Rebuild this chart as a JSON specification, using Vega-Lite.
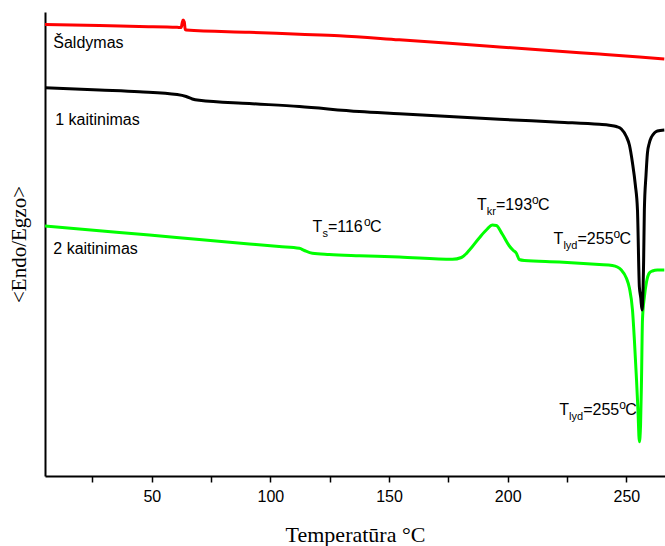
{
  "$schema": "https://vega.github.io/schema/vega-lite/v6.json",
  "width": 620,
  "height": 464,
  "autosize": "none",
  "padding": {"left": 45, "top": 12, "right": 0, "bottom": 70},
  "background": "white",
  "config": {"view": {"stroke": null}, "text": {"font": "Liberation Sans", "fill": "black"}},
  "datasets": {
    "curves": [
      {"s": "Šaldymas", "T": 5.0, "v": 451.5}, {"s": "Šaldymas", "T": 27.9, "v": 450.5}, {"s": "Šaldymas", "T": 44.7, "v": 449.5},
      {"s": "Šaldymas", "T": 60.7, "v": 448.7}, {"s": "Šaldymas", "T": 62.4, "v": 448.5}, {"s": "Šaldymas", "T": 62.8, "v": 453},
      {"s": "Šaldymas", "T": 63.2, "v": 456}, {"s": "Šaldymas", "T": 63.7, "v": 454}, {"s": "Šaldymas", "T": 64.1, "v": 446.5},
      {"s": "Šaldymas", "T": 64.5, "v": 446}, {"s": "Šaldymas", "T": 91.1, "v": 443.7}, {"s": "Šaldymas", "T": 112.2, "v": 441.8},
      {"s": "Šaldymas", "T": 129.0, "v": 440.3}, {"s": "Šaldymas", "T": 154.3, "v": 436.2}, {"s": "Šaldymas", "T": 175.4, "v": 432.7},
      {"s": "Šaldymas", "T": 196.5, "v": 429.1}, {"s": "Šaldymas", "T": 221.7, "v": 424.7}, {"s": "Šaldymas", "T": 238.6, "v": 421.9},
      {"s": "Šaldymas", "T": 255.5, "v": 419}, {"s": "Šaldymas", "T": 266.0, "v": 417},

      {"s": "1 kaitinimas", "T": 5.0, "v": 388.3}, {"s": "1 kaitinimas", "T": 27.9, "v": 386}, {"s": "1 kaitinimas", "T": 44.7, "v": 384.3},
      {"s": "1 kaitinimas", "T": 60.7, "v": 381.5}, {"s": "1 kaitinimas", "T": 64.5, "v": 379.5}, {"s": "1 kaitinimas", "T": 67.1, "v": 377},
      {"s": "1 kaitinimas", "T": 70.0, "v": 375.7}, {"s": "1 kaitinimas", "T": 91.1, "v": 372.5}, {"s": "1 kaitinimas", "T": 112.2, "v": 369.5},
      {"s": "1 kaitinimas", "T": 137.5, "v": 364.5}, {"s": "1 kaitinimas", "T": 154.3, "v": 362.3}, {"s": "1 kaitinimas", "T": 175.4, "v": 359.5},
      {"s": "1 kaitinimas", "T": 196.5, "v": 356.8}, {"s": "1 kaitinimas", "T": 221.7, "v": 353.8}, {"s": "1 kaitinimas", "T": 238.6, "v": 351.7},
      {"s": "1 kaitinimas", "T": 242.8, "v": 350.8}, {"s": "1 kaitinimas", "T": 245.8, "v": 349.5}, {"s": "1 kaitinimas", "T": 247.9, "v": 347},
      {"s": "1 kaitinimas", "T": 250.0, "v": 339.5}, {"s": "1 kaitinimas", "T": 251.3, "v": 331}, {"s": "1 kaitinimas", "T": 252.6, "v": 313},
      {"s": "1 kaitinimas", "T": 253.8, "v": 291}, {"s": "1 kaitinimas", "T": 254.7, "v": 266}, {"s": "1 kaitinimas", "T": 255.5, "v": 189},
      {"s": "1 kaitinimas", "T": 256.1, "v": 178}, {"s": "1 kaitinimas", "T": 256.6, "v": 166}, {"s": "1 kaitinimas", "T": 257.3, "v": 216},
      {"s": "1 kaitinimas", "T": 257.6, "v": 266}, {"s": "1 kaitinimas", "T": 258.3, "v": 301}, {"s": "1 kaitinimas", "T": 258.9, "v": 323},
      {"s": "1 kaitinimas", "T": 259.7, "v": 333}, {"s": "1 kaitinimas", "T": 260.6, "v": 339}, {"s": "1 kaitinimas", "T": 261.8, "v": 343},
      {"s": "1 kaitinimas", "T": 263.1, "v": 345}, {"s": "1 kaitinimas", "T": 266.0, "v": 346},

      {"s": "2 kaitinimas", "T": 5.0, "v": 250}, {"s": "2 kaitinimas", "T": 27.9, "v": 245.3}, {"s": "2 kaitinimas", "T": 49.0, "v": 241},
      {"s": "2 kaitinimas", "T": 70.0, "v": 236.5}, {"s": "2 kaitinimas", "T": 91.1, "v": 232.1}, {"s": "2 kaitinimas", "T": 103.7, "v": 229.5},
      {"s": "2 kaitinimas", "T": 112.2, "v": 227.7}, {"s": "2 kaitinimas", "T": 114.3, "v": 225.5}, {"s": "2 kaitinimas", "T": 117.7, "v": 222.7},
      {"s": "2 kaitinimas", "T": 124.8, "v": 221.5}, {"s": "2 kaitinimas", "T": 137.5, "v": 220.3}, {"s": "2 kaitinimas", "T": 154.3, "v": 219},
      {"s": "2 kaitinimas", "T": 176.7, "v": 216.7}, {"s": "2 kaitinimas", "T": 180.5, "v": 218.5}, {"s": "2 kaitinimas", "T": 183.9, "v": 226},
      {"s": "2 kaitinimas", "T": 188.0, "v": 238}, {"s": "2 kaitinimas", "T": 191.4, "v": 247}, {"s": "2 kaitinimas", "T": 193.5, "v": 251},
      {"s": "2 kaitinimas", "T": 195.2, "v": 250.5}, {"s": "2 kaitinimas", "T": 197.7, "v": 242}, {"s": "2 kaitinimas", "T": 200.7, "v": 230},
      {"s": "2 kaitinimas", "T": 202.4, "v": 225.5}, {"s": "2 kaitinimas", "T": 203.6, "v": 223}, {"s": "2 kaitinimas", "T": 204.9, "v": 216.5},
      {"s": "2 kaitinimas", "T": 207.0, "v": 215.5}, {"s": "2 kaitinimas", "T": 221.7, "v": 214}, {"s": "2 kaitinimas", "T": 238.6, "v": 211.5},
      {"s": "2 kaitinimas", "T": 244.1, "v": 210.5}, {"s": "2 kaitinimas", "T": 246.2, "v": 209}, {"s": "2 kaitinimas", "T": 247.9, "v": 206},
      {"s": "2 kaitinimas", "T": 250.0, "v": 198}, {"s": "2 kaitinimas", "T": 251.3, "v": 188}, {"s": "2 kaitinimas", "T": 252.6, "v": 166},
      {"s": "2 kaitinimas", "T": 253.4, "v": 136}, {"s": "2 kaitinimas", "T": 254.3, "v": 96}, {"s": "2 kaitinimas", "T": 254.9, "v": 66},
      {"s": "2 kaitinimas", "T": 255.5, "v": 34.3}, {"s": "2 kaitinimas", "T": 256.0, "v": 51}, {"s": "2 kaitinimas", "T": 256.4, "v": 96},
      {"s": "2 kaitinimas", "T": 256.8, "v": 156}, {"s": "2 kaitinimas", "T": 257.6, "v": 179}, {"s": "2 kaitinimas", "T": 258.5, "v": 194},
      {"s": "2 kaitinimas", "T": 259.7, "v": 203}, {"s": "2 kaitinimas", "T": 261.0, "v": 205}, {"s": "2 kaitinimas", "T": 263.1, "v": 206},
      {"s": "2 kaitinimas", "T": 266.0, "v": 206}
    ],
    "texts": [
      {"text": "Šaldymas", "T": 8.5, "v": 428.3, "kind": "main"},
      {"text": "1 kaitinimas", "T": 9.3, "v": 351, "kind": "main"},
      {"text": "2 kaitinimas", "T": 8.5, "v": 222, "kind": "main"},

      {"text": "T", "T": 117.78, "v": 244.3, "kind": "main"},
      {"text": "s", "T": 121.91, "v": 244.3, "kind": "sub"},
      {"text": "=116", "T": 124.23, "v": 244.3, "kind": "main"},
      {"text": "o", "T": 139.40, "v": 244.3, "kind": "sup"},
      {"text": "C", "T": 141.97, "v": 244.3, "kind": "main"},

      {"text": "T", "T": 187.07, "v": 266, "kind": "main"},
      {"text": "kr", "T": 191.20, "v": 266, "kind": "sub"},
      {"text": "=193", "T": 195.08, "v": 266, "kind": "main"},
      {"text": "o", "T": 210.25, "v": 266, "kind": "sup"},
      {"text": "C", "T": 212.82, "v": 266, "kind": "main"},

      {"text": "T", "T": 219.36, "v": 232, "kind": "main"},
      {"text": "lyd", "T": 223.49, "v": 232, "kind": "sub"},
      {"text": "=255", "T": 229.43, "v": 232, "kind": "main"},
      {"text": "o", "T": 244.60, "v": 232, "kind": "sup"},
      {"text": "C", "T": 247.17, "v": 232, "kind": "main"},

      {"text": "T", "T": 221.76, "v": 61, "kind": "main"},
      {"text": "lyd", "T": 225.89, "v": 61, "kind": "sub"},
      {"text": "=255", "T": 231.83, "v": 61, "kind": "main"},
      {"text": "o", "T": 247.01, "v": 61, "kind": "sup"},
      {"text": "C", "T": 249.58, "v": 61, "kind": "main"}
    ]
  },
  "layer": [
    {
      "data": {"name": "curves"},
      "transform": [{"filter": "datum.s === '2 kaitinimas'"}],
      "mark": {"type": "line", "color": "#00ff00", "strokeWidth": 3, "interpolate": "monotone", "clip": true},
      "encoding": {
        "x": {
          "field": "T", "type": "quantitative",
          "scale": {"domain": [5, 266.3], "nice": false, "zero": false},
          "axis": {
            "values": [25, 50, 75, 100, 125, 150, 175, 200, 225, 250],
            "labelExpr": "datum.value % 50 === 0 ? datum.label : ''",
            "labelOverlap": false, "labelFlush": false,
            "grid": false, "domainColor": "black", "domainWidth": 2,
            "tickColor": "black", "tickWidth": 1.5, "tickSize": 6,
            "labelFont": "Liberation Sans", "labelFontSize": 16, "labelColor": "black", "labelPadding": 6,
            "title": "Temperatūra °C", "titleFont": "Liberation Serif", "titleFontSize": 22,
            "titleFontWeight": "normal", "titleColor": "black", "titlePadding": 20
          }
        },
        "y": {
          "field": "v", "type": "quantitative",
          "scale": {"domain": [0, 464], "nice": false, "zero": false},
          "axis": {
            "ticks": false, "labels": false, "grid": false,
            "domainColor": "black", "domainWidth": 2,
            "title": "<Endo/Egzo>", "titleFont": "Liberation Serif", "titleFontSize": 21,
            "titleFontWeight": "normal", "titleColor": "black", "titlePadding": 16
          }
        }
      }
    },
    {
      "data": {"name": "curves"},
      "transform": [{"filter": "datum.s === '1 kaitinimas'"}],
      "mark": {"type": "line", "color": "black", "strokeWidth": 3, "interpolate": "monotone", "clip": true},
      "encoding": {"x": {"field": "T", "type": "quantitative"}, "y": {"field": "v", "type": "quantitative"}}
    },
    {
      "data": {"name": "curves"},
      "transform": [{"filter": "datum.s === 'Šaldymas'"}],
      "mark": {"type": "line", "color": "#ff0000", "strokeWidth": 3, "interpolate": "monotone", "clip": true},
      "encoding": {"x": {"field": "T", "type": "quantitative"}, "y": {"field": "v", "type": "quantitative"}}
    },
    {
      "mark": {"type": "rule", "color": "#333333", "strokeWidth": 1.5},
      "encoding": {"y": {"datum": 464}}
    },
    {
      "data": {"name": "texts"},
      "transform": [{"filter": "datum.kind === 'main'"}],
      "mark": {"type": "text", "align": "left", "baseline": "alphabetic", "fontSize": 16, "font": "Liberation Sans", "fill": "black", "color": "black"},
      "encoding": {"x": {"field": "T", "type": "quantitative"}, "y": {"field": "v", "type": "quantitative"}, "text": {"field": "text"}}
    },
    {
      "data": {"name": "texts"},
      "transform": [{"filter": "datum.kind === 'sub'"}],
      "mark": {"type": "text", "align": "left", "baseline": "alphabetic", "fontSize": 11, "dy": 5, "font": "Liberation Sans", "fill": "black", "color": "black"},
      "encoding": {"x": {"field": "T", "type": "quantitative"}, "y": {"field": "v", "type": "quantitative"}, "text": {"field": "text"}}
    },
    {
      "data": {"name": "texts"},
      "transform": [{"filter": "datum.kind === 'sup'"}],
      "mark": {"type": "text", "align": "left", "baseline": "alphabetic", "fontSize": 12, "dy": -6, "font": "Liberation Sans", "fill": "black", "color": "black"},
      "encoding": {"x": {"field": "T", "type": "quantitative"}, "y": {"field": "v", "type": "quantitative"}, "text": {"field": "text"}}
    }
  ]
}
